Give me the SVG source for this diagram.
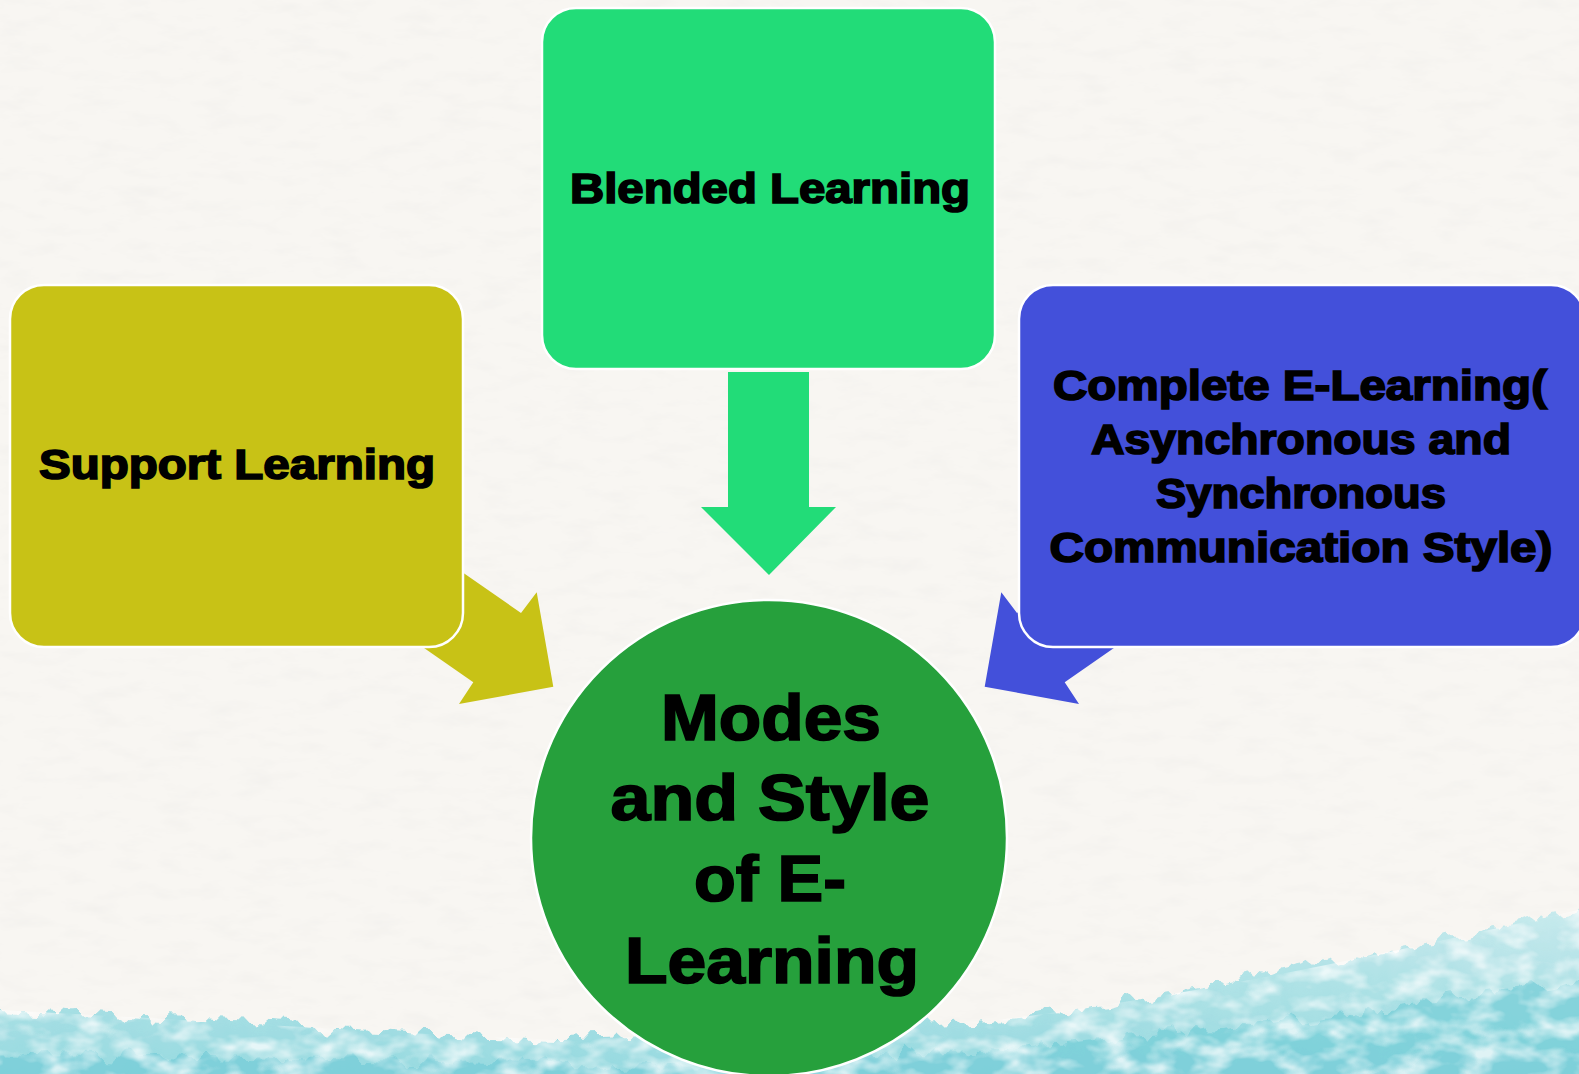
<svg xmlns="http://www.w3.org/2000/svg" width="1579" height="1074" viewBox="0 0 1579 1074">
  <style>
    .lbl { font-family: "Liberation Sans", Arial, sans-serif; font-weight: bold; fill: #000; stroke: #000; stroke-width: 1.7; text-anchor: middle; }
    .box { stroke: #ffffff; stroke-width: 2.5; }
  </style>
  <defs>
    <filter id="paper" x="0" y="0" width="100%" height="100%">
      <feTurbulence type="fractalNoise" baseFrequency="0.025 0.07" numOctaves="4" seed="7" result="n"/>
      <feColorMatrix in="n" type="matrix" values="0 0 0 0 0.82  0 0 0 0 0.81  0 0 0 0 0.79  0.7 0 0 0 -0.33"/>
    </filter>
    <filter id="rough" x="-5%" y="-20%" width="110%" height="140%">
      <feTurbulence type="fractalNoise" baseFrequency="0.05 0.02" numOctaves="3" seed="4" result="t"/>
      <feDisplacementMap in="SourceGraphic" in2="t" scale="30" xChannelSelector="R" yChannelSelector="G"/>
    </filter>
    <filter id="streaks" x="0" y="0" width="100%" height="100%">
      <feTurbulence type="fractalNoise" baseFrequency="0.03 0.05" numOctaves="3" seed="11" result="s"/>
      <feColorMatrix in="s" type="matrix" values="0 0 0 0 1  0 0 0 0 1  0 0 0 0 1  2.4 0 0 0 -0.95"/>
    </filter>
    <linearGradient id="teal" x1="0" y1="0" x2="0" y2="1">
      <stop offset="0" stop-color="#c4eaee"/>
      <stop offset="0.5" stop-color="#9bdce2"/>
      <stop offset="1" stop-color="#78d0da"/>
    </linearGradient>
    <clipPath id="bandClip">
      <path d="M-40,1008 C200,1020 400,1034 560,1040 L980,1022 C1150,1002 1350,964 1620,900 L1620,1110 L-40,1110 Z"/>
    </clipPath>
  </defs>

  <!-- background -->
  <rect x="0" y="0" width="1579" height="1074" fill="#f8f6f2"/>
  <rect x="0" y="0" width="1579" height="1074" filter="url(#paper)"/>
  <g filter="url(#rough)">
    <path d="M-40,1008 C200,1020 400,1034 560,1040 L980,1022 C1150,1002 1350,964 1620,900 L1620,1110 L-40,1110 Z" fill="url(#teal)" opacity="0.85"/>
    <path d="M-40,1052 C250,1056 450,1062 600,1066 L1000,1050 C1200,1032 1400,1008 1620,972 L1620,1110 L-40,1110 Z" fill="#72ccd7" opacity="0.65"/>
  </g>
  <g clip-path="url(#bandClip)">
    <rect x="0" y="880" width="1579" height="194" filter="url(#streaks)" opacity="0.75"/>
  </g>

  <!-- connectors -->
  <g id="connectors">
    <polygon id="arrow-blended" points="728,372 809,372 809,507 836,507 769,575 701,507 728,507" fill="#22dc78"/>
    <polygon id="arrow-support" points="439,556 521,613 536.7,592.3 553.3,686.7 459,704 473.3,682.3 391,625" fill="#c8c216"/>
    <polygon id="arrow-complete" points="1099,556 1017,613 1001.3,592.3 984.7,686.7 1079,704 1064.7,682.3 1147,625" fill="#4350da"/>
  </g>

  <!-- nodes -->
  <g id="node-support">
    <rect class="box" x="10" y="285" width="453" height="362" rx="34" fill="#c8c216"/>
    <text class="lbl" x="237" y="479" font-size="42" textLength="396" lengthAdjust="spacingAndGlyphs">Support Learning</text>
  </g>

  <g id="node-blended">
    <rect class="box" x="542" y="8" width="453" height="361" rx="34" fill="#22dc78"/>
    <text class="lbl" x="770" y="203" font-size="42" textLength="400" lengthAdjust="spacingAndGlyphs">Blended Learning</text>
  </g>

  <g id="node-complete">
    <rect class="box" x="1019" y="285" width="566" height="362" rx="34" fill="#4350da"/>
    <text class="lbl" x="1300" y="399.5" font-size="42" textLength="494" lengthAdjust="spacingAndGlyphs">Complete E-Learning(</text>
    <text class="lbl" x="1301" y="454" font-size="42" textLength="420" lengthAdjust="spacingAndGlyphs">Asynchronous and</text>
    <text class="lbl" x="1301" y="508" font-size="42" textLength="290" lengthAdjust="spacingAndGlyphs">Synchronous</text>
    <text class="lbl" x="1301" y="562" font-size="42" textLength="503" lengthAdjust="spacingAndGlyphs">Communication Style)</text>
  </g>

  <g id="node-center">
    <circle cx="769" cy="838" r="238" fill="#26a03c" stroke="#ffffff" stroke-width="2.5"/>
    <text class="lbl" x="771" y="740" font-size="64" stroke-width="2" textLength="220" lengthAdjust="spacingAndGlyphs">Modes</text>
    <text class="lbl" x="770" y="820" font-size="64" stroke-width="2" textLength="319" lengthAdjust="spacingAndGlyphs">and Style</text>
    <text class="lbl" x="770" y="900.5" font-size="64" stroke-width="2" textLength="152" lengthAdjust="spacingAndGlyphs">of E-</text>
    <text class="lbl" x="772" y="982.5" font-size="64" stroke-width="2" textLength="294" lengthAdjust="spacingAndGlyphs">Learning</text>
  </g>
</svg>
